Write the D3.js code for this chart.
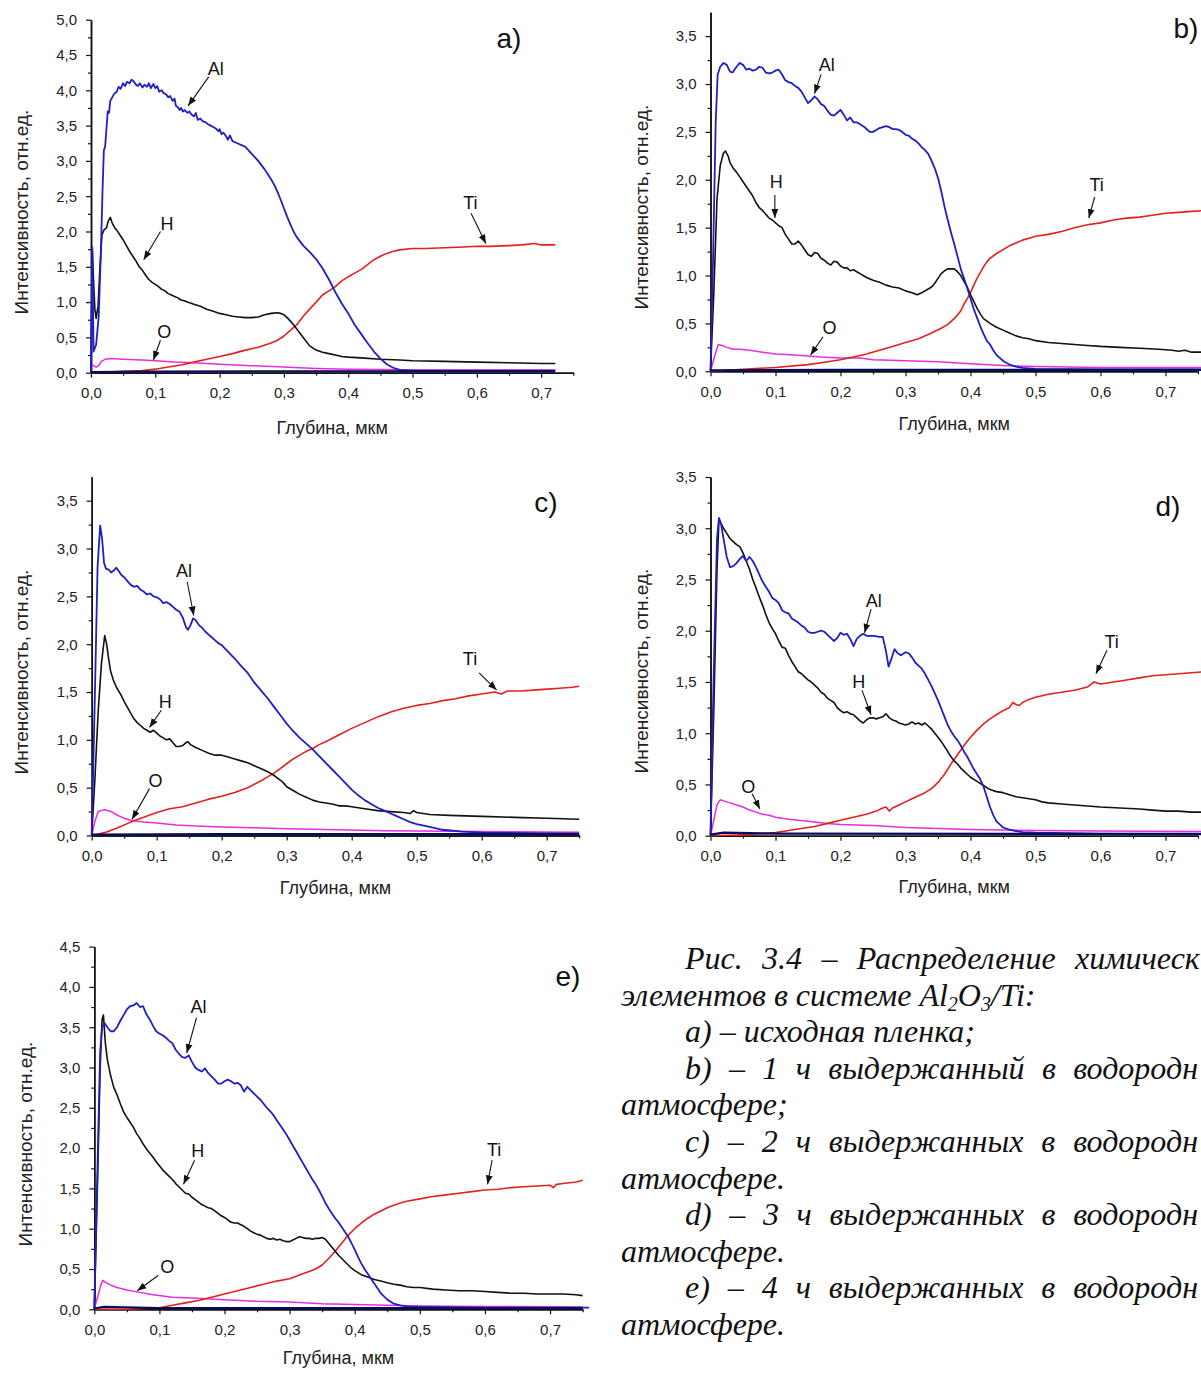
<!DOCTYPE html>
<html><head><meta charset="utf-8">
<script src="https://cdn.jsdelivr.net/npm/d3@7"></script>
<style>
html,body{margin:0;padding:0;background:#fff;overflow:hidden;}
svg{display:block;}
</style></head><body>
<svg id="chart" width="1201" height="1373"></svg>
<script>
// ---------------- DATA (depth µm, intensity a.u.) ----------------
const xTickLabels = [0,0.1,0.2,0.3,0.4,0.5,0.6,0.7];
const xMinorTicks = [0.05,0.15,0.25,0.35,0.45,0.55,0.65,0.75];
const yTicksA = [0,0.5,1,1.5,2,2.5,3,3.5,4,4.5,5];
const yTicksBCD = [0,0.5,1,1.5,2,2.5,3,3.5];
const yTicksE = [0,0.5,1,1.5,2,2.5,3,3.5,4,4.5];
const elements = ['O','Ti','H','Al','B'];

// panel a
const aAl = [[0,0],[0.002,1.78],[0.004,0.3],[0.008,0.4],[0.012,0.8],[0.015,1.6],[0.018,2.6],[0.02,3.15],[0.022,3.2],[0.024,3.45],[0.026,3.7],[0.028,3.68],[0.03,3.85],[0.033,3.9],[0.036,3.95],[0.04,3.98],[0.043,4.05],[0.046,4.02],[0.05,4.1],[0.053,4.06],[0.056,4.12],[0.06,4.1],[0.063,4.15],[0.066,4.13],[0.07,4.08],[0.073,4.06],[0.076,4.1],[0.08,4.04],[0.083,4.08],[0.087,4.05],[0.09,4.1],[0.093,4.03],[0.097,4.09],[0.1,4.03],[0.103,4.06],[0.106,3.98],[0.11,4.0],[0.113,3.96],[0.117,3.94],[0.12,3.9],[0.123,3.92],[0.127,3.85],[0.13,3.88],[0.132,3.78],[0.135,3.76],[0.138,3.72],[0.14,3.75],[0.143,3.7],[0.146,3.72],[0.15,3.68],[0.153,3.7],[0.156,3.66],[0.16,3.63],[0.163,3.68],[0.166,3.58],[0.17,3.6],[0.174,3.56],[0.178,3.55],[0.182,3.52],[0.186,3.5],[0.19,3.48],[0.194,3.46],[0.198,3.42],[0.2,3.45],[0.203,3.38],[0.206,3.4],[0.21,3.35],[0.213,3.3],[0.216,3.36],[0.22,3.28],[0.225,3.26],[0.23,3.24],[0.235,3.22],[0.24,3.2],[0.245,3.15],[0.25,3.1],[0.255,3.05],[0.26,3.0],[0.265,2.94],[0.27,2.88],[0.275,2.81],[0.28,2.74],[0.285,2.66],[0.29,2.56],[0.295,2.45],[0.3,2.33],[0.305,2.21],[0.31,2.1],[0.315,2.0],[0.32,1.92],[0.325,1.86],[0.33,1.8],[0.34,1.71],[0.35,1.61],[0.36,1.48],[0.37,1.32],[0.38,1.14],[0.39,0.98],[0.4,0.84],[0.41,0.68],[0.42,0.55],[0.43,0.42],[0.44,0.3],[0.45,0.2],[0.46,0.12],[0.47,0.07],[0.48,0.04],[0.5,0.03],[0.6,0.03],[0.722,0.03]];
const aH = [[0,0],[0.002,1.75],[0.004,1.3],[0.006,0.9],[0.008,0.77],[0.011,0.95],[0.014,1.5],[0.017,1.95],[0.02,2.02],[0.024,2.05],[0.027,2.15],[0.03,2.2],[0.033,2.12],[0.037,2.05],[0.04,2.02],[0.045,1.95],[0.05,1.88],[0.055,1.8],[0.06,1.72],[0.065,1.65],[0.07,1.58],[0.075,1.5],[0.08,1.45],[0.085,1.38],[0.09,1.32],[0.095,1.28],[0.1,1.25],[0.105,1.22],[0.11,1.18],[0.115,1.16],[0.12,1.12],[0.125,1.1],[0.13,1.08],[0.135,1.06],[0.14,1.03],[0.145,1.02],[0.15,1.0],[0.16,0.97],[0.17,0.94],[0.18,0.9],[0.19,0.87],[0.2,0.84],[0.21,0.82],[0.22,0.8],[0.23,0.79],[0.24,0.78],[0.25,0.78],[0.26,0.79],[0.27,0.82],[0.28,0.84],[0.29,0.85],[0.295,0.84],[0.3,0.82],[0.305,0.78],[0.31,0.73],[0.315,0.68],[0.32,0.62],[0.33,0.5],[0.34,0.38],[0.35,0.32],[0.36,0.29],[0.37,0.27],[0.38,0.25],[0.39,0.23],[0.4,0.22],[0.42,0.21],[0.45,0.19],[0.48,0.18],[0.5,0.17],[0.55,0.16],[0.6,0.15],[0.65,0.14],[0.7,0.13],[0.722,0.13]];
const aTi = [[0,0],[0.05,0.02],[0.08,0.03],[0.1,0.05],[0.12,0.08],[0.14,0.11],[0.16,0.15],[0.18,0.19],[0.2,0.23],[0.22,0.27],[0.24,0.32],[0.26,0.36],[0.28,0.42],[0.29,0.46],[0.3,0.52],[0.31,0.6],[0.32,0.68],[0.33,0.8],[0.34,0.9],[0.35,1.0],[0.36,1.1],[0.37,1.16],[0.38,1.22],[0.39,1.3],[0.4,1.36],[0.41,1.41],[0.42,1.46],[0.43,1.53],[0.44,1.6],[0.45,1.65],[0.46,1.69],[0.47,1.72],[0.48,1.74],[0.5,1.76],[0.52,1.76],[0.55,1.77],[0.58,1.78],[0.6,1.79],[0.62,1.79],[0.65,1.8],[0.67,1.81],[0.69,1.83],[0.7,1.81],[0.722,1.81]];
const aO = [[0,0.12],[0.004,0.1],[0.008,0.08],[0.012,0.1],[0.016,0.16],[0.022,0.19],[0.03,0.2],[0.05,0.19],[0.08,0.18],[0.1,0.17],[0.13,0.15],[0.16,0.14],[0.2,0.12],[0.25,0.1],[0.3,0.08],[0.35,0.06],[0.4,0.05],[0.45,0.045],[0.5,0.04],[0.6,0.04],[0.722,0.04]];
const aBase = [[0,0.01],[0.1,0.015],[0.3,0.02],[0.722,0.02]];

// panel b
const bAl = [[0,0],[0.004,1.2],[0.008,2.6],[0.011,3.1],[0.015,3.18],[0.02,3.22],[0.025,3.2],[0.03,3.13],[0.034,3.12],[0.04,3.18],[0.045,3.22],[0.05,3.2],[0.055,3.15],[0.06,3.16],[0.065,3.14],[0.07,3.15],[0.075,3.18],[0.08,3.17],[0.085,3.12],[0.09,3.11],[0.095,3.12],[0.1,3.14],[0.105,3.15],[0.11,3.1],[0.115,3.04],[0.12,3.02],[0.125,3.01],[0.13,2.98],[0.135,2.96],[0.14,2.92],[0.145,2.86],[0.15,2.8],[0.155,2.83],[0.16,2.87],[0.165,2.84],[0.17,2.79],[0.175,2.77],[0.18,2.72],[0.185,2.68],[0.19,2.67],[0.195,2.7],[0.2,2.73],[0.205,2.68],[0.21,2.62],[0.215,2.65],[0.22,2.6],[0.225,2.6],[0.23,2.58],[0.235,2.56],[0.24,2.53],[0.245,2.5],[0.25,2.5],[0.255,2.52],[0.26,2.54],[0.265,2.55],[0.27,2.56],[0.275,2.55],[0.28,2.53],[0.285,2.53],[0.29,2.52],[0.295,2.5],[0.3,2.47],[0.305,2.46],[0.31,2.43],[0.315,2.41],[0.32,2.38],[0.325,2.34],[0.33,2.31],[0.335,2.27],[0.34,2.2],[0.345,2.12],[0.35,2.02],[0.355,1.88],[0.36,1.72],[0.365,1.58],[0.37,1.45],[0.375,1.33],[0.38,1.2],[0.385,1.07],[0.39,0.97],[0.395,0.87],[0.4,0.76],[0.405,0.65],[0.41,0.56],[0.415,0.47],[0.42,0.39],[0.425,0.32],[0.43,0.28],[0.435,0.22],[0.44,0.17],[0.445,0.14],[0.45,0.11],[0.455,0.09],[0.46,0.07],[0.47,0.05],[0.48,0.035],[0.5,0.025],[0.6,0.02],[0.76,0.02]];
const bH = [[0,0],[0.005,0.8],[0.01,1.8],[0.015,2.15],[0.02,2.28],[0.023,2.3],[0.027,2.25],[0.03,2.18],[0.035,2.12],[0.04,2.08],[0.045,2.03],[0.05,1.98],[0.055,1.93],[0.06,1.88],[0.065,1.83],[0.07,1.76],[0.075,1.71],[0.08,1.68],[0.085,1.64],[0.09,1.6],[0.095,1.58],[0.1,1.55],[0.105,1.52],[0.11,1.5],[0.115,1.43],[0.12,1.38],[0.125,1.33],[0.13,1.33],[0.135,1.36],[0.14,1.32],[0.145,1.27],[0.15,1.22],[0.155,1.2],[0.16,1.24],[0.165,1.23],[0.17,1.18],[0.175,1.16],[0.18,1.13],[0.185,1.11],[0.19,1.15],[0.195,1.14],[0.2,1.1],[0.205,1.08],[0.21,1.08],[0.215,1.05],[0.22,1.06],[0.225,1.04],[0.23,1.02],[0.24,0.98],[0.25,0.95],[0.26,0.93],[0.27,0.9],[0.28,0.88],[0.29,0.87],[0.3,0.84],[0.31,0.82],[0.318,0.8],[0.325,0.82],[0.33,0.84],[0.335,0.86],[0.34,0.88],[0.345,0.92],[0.35,0.97],[0.355,1.02],[0.36,1.05],[0.365,1.07],[0.37,1.07],[0.375,1.07],[0.38,1.04],[0.385,1.0],[0.39,0.94],[0.395,0.88],[0.4,0.8],[0.405,0.73],[0.41,0.66],[0.415,0.6],[0.42,0.55],[0.43,0.5],[0.44,0.46],[0.45,0.43],[0.46,0.4],[0.47,0.37],[0.48,0.35],[0.49,0.34],[0.5,0.32],[0.52,0.3],[0.54,0.29],[0.56,0.28],[0.58,0.27],[0.6,0.26],[0.63,0.25],[0.66,0.24],[0.69,0.23],[0.71,0.22],[0.72,0.21],[0.73,0.22],[0.74,0.2],[0.76,0.2]];
const bTi = [[0,0],[0.05,0.02],[0.1,0.04],[0.15,0.07],[0.18,0.1],[0.2,0.12],[0.22,0.15],[0.24,0.18],[0.26,0.22],[0.28,0.26],[0.3,0.3],[0.32,0.34],[0.34,0.4],[0.355,0.45],[0.365,0.49],[0.375,0.55],[0.385,0.63],[0.39,0.7],[0.395,0.76],[0.4,0.82],[0.405,0.9],[0.41,0.97],[0.415,1.03],[0.42,1.09],[0.425,1.14],[0.43,1.18],[0.44,1.23],[0.45,1.27],[0.46,1.31],[0.47,1.34],[0.48,1.37],[0.49,1.39],[0.5,1.41],[0.52,1.43],[0.54,1.46],[0.56,1.5],[0.58,1.53],[0.6,1.55],[0.62,1.58],[0.64,1.6],[0.66,1.61],[0.68,1.63],[0.7,1.65],[0.72,1.66],[0.74,1.67],[0.76,1.68]];
const bO = [[0,0],[0.006,0.15],[0.012,0.28],[0.018,0.27],[0.025,0.25],[0.035,0.23],[0.045,0.23],[0.06,0.22],[0.08,0.2],[0.1,0.18],[0.13,0.17],[0.15,0.16],[0.17,0.15],[0.2,0.14],[0.23,0.14],[0.25,0.12],[0.3,0.11],[0.35,0.1],[0.4,0.08],[0.45,0.06],[0.5,0.05],[0.6,0.04],[0.76,0.04]];
const bBase = [[0,0.01],[0.2,0.015],[0.76,0.015]];

// panel c
const cAl = [[0,0],[0.005,1.5],[0.009,2.8],[0.013,3.24],[0.016,3.1],[0.019,2.85],[0.022,2.79],[0.026,2.78],[0.03,2.75],[0.034,2.77],[0.038,2.8],[0.042,2.76],[0.046,2.72],[0.05,2.7],[0.055,2.66],[0.06,2.62],[0.065,2.6],[0.07,2.61],[0.075,2.57],[0.08,2.55],[0.085,2.52],[0.09,2.53],[0.095,2.5],[0.1,2.49],[0.105,2.47],[0.11,2.43],[0.115,2.44],[0.12,2.42],[0.125,2.39],[0.13,2.36],[0.135,2.34],[0.14,2.28],[0.145,2.18],[0.148,2.15],[0.152,2.2],[0.156,2.27],[0.16,2.25],[0.165,2.2],[0.17,2.17],[0.175,2.13],[0.18,2.1],[0.185,2.07],[0.19,2.04],[0.195,2.01],[0.2,1.99],[0.21,1.92],[0.22,1.85],[0.23,1.77],[0.24,1.7],[0.25,1.6],[0.26,1.52],[0.27,1.44],[0.28,1.35],[0.29,1.26],[0.3,1.17],[0.31,1.09],[0.32,1.02],[0.33,0.96],[0.34,0.9],[0.35,0.83],[0.36,0.76],[0.37,0.69],[0.38,0.62],[0.39,0.55],[0.4,0.48],[0.41,0.42],[0.42,0.37],[0.43,0.33],[0.44,0.29],[0.45,0.26],[0.46,0.23],[0.47,0.2],[0.48,0.17],[0.49,0.14],[0.5,0.12],[0.52,0.09],[0.54,0.06],[0.57,0.04],[0.6,0.03],[0.75,0.02]];
const cH = [[0,0],[0.005,0.6],[0.01,1.3],[0.015,1.8],[0.02,2.09],[0.023,2.0],[0.026,1.85],[0.029,1.72],[0.033,1.63],[0.038,1.55],[0.045,1.47],[0.05,1.4],[0.055,1.34],[0.06,1.28],[0.065,1.22],[0.07,1.18],[0.075,1.15],[0.08,1.12],[0.085,1.1],[0.09,1.08],[0.095,1.1],[0.1,1.07],[0.105,1.04],[0.11,1.02],[0.115,1.0],[0.12,1.01],[0.125,0.97],[0.13,0.93],[0.135,0.93],[0.14,0.94],[0.145,0.97],[0.148,0.98],[0.152,0.95],[0.16,0.92],[0.17,0.89],[0.18,0.86],[0.19,0.84],[0.2,0.84],[0.21,0.82],[0.22,0.8],[0.23,0.78],[0.24,0.76],[0.25,0.73],[0.26,0.7],[0.27,0.67],[0.28,0.63],[0.29,0.58],[0.295,0.55],[0.3,0.51],[0.31,0.47],[0.32,0.43],[0.33,0.4],[0.34,0.37],[0.35,0.35],[0.36,0.34],[0.37,0.33],[0.38,0.31],[0.39,0.31],[0.4,0.3],[0.42,0.28],[0.44,0.26],[0.46,0.25],[0.48,0.24],[0.49,0.23],[0.495,0.26],[0.5,0.24],[0.52,0.22],[0.55,0.21],[0.6,0.2],[0.65,0.19],[0.7,0.18],[0.75,0.17]];
const cTi = [[0,0],[0.02,0.03],[0.04,0.08],[0.06,0.14],[0.08,0.19],[0.1,0.24],[0.12,0.28],[0.14,0.3],[0.16,0.34],[0.18,0.38],[0.2,0.41],[0.22,0.45],[0.24,0.5],[0.26,0.57],[0.27,0.61],[0.28,0.65],[0.29,0.7],[0.3,0.75],[0.31,0.8],[0.32,0.84],[0.33,0.88],[0.34,0.91],[0.35,0.95],[0.36,0.98],[0.38,1.05],[0.4,1.12],[0.42,1.18],[0.44,1.24],[0.46,1.29],[0.48,1.33],[0.5,1.36],[0.52,1.38],[0.54,1.41],[0.56,1.43],[0.58,1.46],[0.6,1.48],[0.62,1.5],[0.63,1.48],[0.64,1.51],[0.66,1.51],[0.68,1.52],[0.7,1.53],[0.72,1.54],[0.74,1.55],[0.75,1.56]];
const cO = [[0,0],[0.005,0.15],[0.01,0.25],[0.015,0.26],[0.02,0.27],[0.025,0.26],[0.03,0.25],[0.035,0.23],[0.04,0.21],[0.05,0.18],[0.06,0.16],[0.07,0.15],[0.08,0.14],[0.1,0.13],[0.13,0.11],[0.16,0.1],[0.2,0.09],[0.25,0.08],[0.3,0.07],[0.38,0.06],[0.45,0.05],[0.55,0.045],[0.65,0.04],[0.75,0.035]];
const cBase = [[0,0.01],[0.2,0.015],[0.75,0.015]];

// panel d
const dAl = [[0,0],[0.005,1.6],[0.01,2.9],[0.013,3.1],[0.016,3.05],[0.02,2.9],[0.025,2.72],[0.03,2.62],[0.035,2.63],[0.04,2.66],[0.045,2.7],[0.05,2.73],[0.055,2.68],[0.06,2.72],[0.065,2.68],[0.07,2.62],[0.075,2.55],[0.08,2.48],[0.085,2.43],[0.09,2.38],[0.095,2.32],[0.1,2.3],[0.105,2.27],[0.11,2.2],[0.115,2.18],[0.12,2.17],[0.125,2.12],[0.13,2.1],[0.135,2.08],[0.14,2.05],[0.145,2.03],[0.15,1.99],[0.155,1.98],[0.16,1.98],[0.165,1.99],[0.17,2.0],[0.175,1.99],[0.18,1.96],[0.185,1.93],[0.19,1.9],[0.195,1.93],[0.2,1.98],[0.205,1.96],[0.21,1.97],[0.215,1.92],[0.22,1.85],[0.225,1.92],[0.23,1.95],[0.235,1.97],[0.24,1.95],[0.25,1.95],[0.26,1.94],[0.265,1.94],[0.27,1.8],[0.274,1.65],[0.278,1.72],[0.283,1.82],[0.288,1.78],[0.293,1.76],[0.3,1.79],[0.305,1.78],[0.31,1.74],[0.315,1.69],[0.32,1.66],[0.325,1.63],[0.33,1.58],[0.335,1.52],[0.34,1.46],[0.345,1.39],[0.35,1.32],[0.355,1.24],[0.36,1.16],[0.365,1.08],[0.37,1.02],[0.375,0.97],[0.38,0.93],[0.385,0.88],[0.39,0.82],[0.395,0.77],[0.4,0.71],[0.405,0.65],[0.41,0.6],[0.415,0.55],[0.42,0.48],[0.425,0.38],[0.43,0.28],[0.435,0.2],[0.44,0.14],[0.445,0.11],[0.45,0.08],[0.46,0.06],[0.47,0.045],[0.48,0.035],[0.5,0.03],[0.6,0.02],[0.76,0.02]];
const dH = [[0,0],[0.005,1.2],[0.01,2.6],[0.013,3.08],[0.016,3.05],[0.02,3.0],[0.025,2.95],[0.03,2.9],[0.035,2.87],[0.04,2.84],[0.045,2.82],[0.05,2.76],[0.055,2.68],[0.06,2.6],[0.065,2.5],[0.07,2.42],[0.075,2.33],[0.08,2.25],[0.085,2.16],[0.09,2.08],[0.095,2.02],[0.1,1.97],[0.105,1.9],[0.11,1.84],[0.115,1.83],[0.12,1.76],[0.125,1.7],[0.13,1.65],[0.135,1.6],[0.14,1.58],[0.145,1.55],[0.15,1.52],[0.155,1.5],[0.16,1.47],[0.165,1.44],[0.17,1.4],[0.175,1.38],[0.18,1.34],[0.185,1.32],[0.19,1.3],[0.195,1.25],[0.2,1.22],[0.205,1.2],[0.21,1.21],[0.215,1.19],[0.22,1.18],[0.225,1.15],[0.23,1.12],[0.235,1.1],[0.24,1.13],[0.245,1.15],[0.25,1.15],[0.255,1.14],[0.26,1.15],[0.265,1.16],[0.27,1.19],[0.275,1.15],[0.28,1.13],[0.285,1.12],[0.29,1.1],[0.295,1.09],[0.3,1.08],[0.305,1.09],[0.31,1.11],[0.315,1.09],[0.32,1.1],[0.325,1.08],[0.33,1.1],[0.335,1.07],[0.34,1.04],[0.345,1.0],[0.35,0.96],[0.355,0.92],[0.36,0.87],[0.365,0.82],[0.37,0.77],[0.375,0.73],[0.38,0.7],[0.385,0.66],[0.39,0.63],[0.395,0.6],[0.4,0.57],[0.41,0.53],[0.42,0.49],[0.43,0.45],[0.44,0.43],[0.45,0.42],[0.46,0.4],[0.47,0.38],[0.48,0.37],[0.49,0.36],[0.5,0.35],[0.51,0.33],[0.52,0.32],[0.54,0.31],[0.56,0.3],[0.58,0.29],[0.6,0.28],[0.63,0.27],[0.66,0.26],[0.68,0.25],[0.7,0.24],[0.72,0.24],[0.74,0.23],[0.76,0.23]];
const dTi = [[0,0],[0.05,0.01],[0.08,0.02],[0.1,0.03],[0.12,0.05],[0.14,0.07],[0.16,0.09],[0.18,0.12],[0.2,0.15],[0.22,0.18],[0.24,0.21],[0.255,0.24],[0.265,0.27],[0.27,0.28],[0.275,0.24],[0.28,0.27],[0.29,0.3],[0.3,0.33],[0.31,0.36],[0.32,0.39],[0.33,0.42],[0.34,0.46],[0.35,0.52],[0.36,0.6],[0.37,0.7],[0.38,0.79],[0.39,0.88],[0.4,0.96],[0.41,1.03],[0.42,1.09],[0.43,1.14],[0.44,1.18],[0.45,1.22],[0.46,1.25],[0.465,1.3],[0.47,1.28],[0.475,1.27],[0.48,1.3],[0.49,1.33],[0.5,1.35],[0.52,1.38],[0.54,1.4],[0.56,1.42],[0.58,1.45],[0.59,1.5],[0.6,1.48],[0.62,1.5],[0.64,1.52],[0.66,1.54],[0.68,1.56],[0.7,1.57],[0.72,1.58],[0.74,1.59],[0.76,1.6]];
const dO = [[0,0],[0.005,0.15],[0.01,0.3],[0.015,0.35],[0.02,0.34],[0.03,0.32],[0.04,0.3],[0.05,0.28],[0.06,0.25],[0.07,0.23],[0.08,0.21],[0.09,0.2],[0.1,0.18],[0.12,0.16],[0.15,0.14],[0.18,0.12],[0.2,0.11],[0.25,0.1],[0.3,0.08],[0.35,0.07],[0.4,0.06],[0.45,0.055],[0.5,0.05],[0.6,0.045],[0.76,0.04]];
const dBase = [[0,0.01],[0.02,0.03],[0.1,0.02],[0.76,0.015]];

// panel e
const eAl = [[0,0],[0.005,1.8],[0.009,3.2],[0.012,3.5],[0.016,3.55],[0.02,3.5],[0.025,3.45],[0.03,3.45],[0.035,3.5],[0.04,3.58],[0.045,3.65],[0.05,3.72],[0.055,3.76],[0.06,3.77],[0.065,3.8],[0.07,3.75],[0.075,3.76],[0.08,3.66],[0.085,3.6],[0.09,3.52],[0.095,3.45],[0.1,3.42],[0.105,3.4],[0.11,3.37],[0.115,3.33],[0.12,3.3],[0.125,3.22],[0.13,3.17],[0.135,3.13],[0.14,3.12],[0.145,3.15],[0.15,3.07],[0.155,3.0],[0.16,2.97],[0.165,2.95],[0.17,2.99],[0.175,2.93],[0.18,2.89],[0.185,2.85],[0.19,2.8],[0.195,2.8],[0.2,2.83],[0.205,2.85],[0.21,2.83],[0.215,2.8],[0.22,2.81],[0.225,2.78],[0.23,2.7],[0.235,2.76],[0.24,2.72],[0.245,2.68],[0.25,2.64],[0.255,2.6],[0.26,2.55],[0.265,2.5],[0.27,2.46],[0.275,2.41],[0.28,2.35],[0.285,2.29],[0.29,2.23],[0.295,2.17],[0.3,2.1],[0.305,2.03],[0.31,1.96],[0.315,1.89],[0.32,1.82],[0.325,1.75],[0.33,1.68],[0.335,1.61],[0.34,1.55],[0.345,1.48],[0.35,1.4],[0.355,1.32],[0.36,1.25],[0.365,1.19],[0.37,1.13],[0.375,1.08],[0.38,1.02],[0.385,0.96],[0.39,0.9],[0.395,0.82],[0.4,0.74],[0.405,0.65],[0.41,0.57],[0.415,0.5],[0.42,0.44],[0.425,0.38],[0.43,0.32],[0.435,0.26],[0.44,0.2],[0.445,0.16],[0.45,0.12],[0.46,0.07],[0.47,0.05],[0.48,0.035],[0.5,0.03],[0.6,0.02],[0.76,0.02]];
const eH = [[0,0],[0.005,1.6],[0.009,3.0],[0.012,3.6],[0.014,3.65],[0.017,3.3],[0.02,3.1],[0.025,2.9],[0.03,2.75],[0.035,2.66],[0.04,2.55],[0.045,2.45],[0.05,2.38],[0.055,2.32],[0.06,2.26],[0.065,2.18],[0.07,2.12],[0.075,2.05],[0.08,1.99],[0.085,1.94],[0.09,1.89],[0.095,1.83],[0.1,1.78],[0.105,1.73],[0.11,1.69],[0.115,1.65],[0.12,1.61],[0.125,1.56],[0.13,1.52],[0.135,1.48],[0.14,1.44],[0.145,1.43],[0.15,1.39],[0.155,1.36],[0.16,1.33],[0.165,1.3],[0.17,1.28],[0.175,1.26],[0.18,1.25],[0.185,1.22],[0.19,1.19],[0.195,1.16],[0.2,1.14],[0.205,1.11],[0.21,1.08],[0.215,1.07],[0.22,1.07],[0.225,1.05],[0.23,1.03],[0.235,1.0],[0.24,0.97],[0.245,0.95],[0.25,0.93],[0.255,0.92],[0.26,0.9],[0.265,0.88],[0.27,0.87],[0.275,0.88],[0.28,0.86],[0.285,0.87],[0.29,0.85],[0.295,0.84],[0.3,0.84],[0.305,0.86],[0.31,0.88],[0.315,0.9],[0.32,0.89],[0.325,0.88],[0.33,0.88],[0.335,0.87],[0.34,0.88],[0.345,0.88],[0.35,0.89],[0.355,0.87],[0.36,0.82],[0.365,0.77],[0.37,0.72],[0.375,0.67],[0.38,0.63],[0.385,0.59],[0.39,0.55],[0.395,0.51],[0.4,0.48],[0.41,0.43],[0.42,0.4],[0.43,0.37],[0.44,0.35],[0.45,0.33],[0.46,0.31],[0.47,0.3],[0.48,0.28],[0.49,0.27],[0.5,0.27],[0.52,0.25],[0.54,0.24],[0.56,0.23],[0.58,0.23],[0.6,0.22],[0.62,0.21],[0.64,0.2],[0.66,0.2],[0.68,0.19],[0.7,0.19],[0.72,0.19],[0.74,0.18],[0.75,0.17]];
const eTi = [[0,0],[0.05,0.0],[0.08,0.01],[0.1,0.02],[0.12,0.05],[0.14,0.08],[0.16,0.11],[0.18,0.15],[0.2,0.19],[0.22,0.23],[0.24,0.27],[0.26,0.31],[0.28,0.35],[0.3,0.38],[0.31,0.41],[0.32,0.44],[0.33,0.47],[0.34,0.5],[0.35,0.55],[0.36,0.63],[0.37,0.72],[0.38,0.82],[0.39,0.92],[0.4,1.0],[0.41,1.07],[0.42,1.13],[0.43,1.18],[0.44,1.22],[0.45,1.26],[0.46,1.29],[0.47,1.32],[0.48,1.34],[0.5,1.37],[0.52,1.4],[0.54,1.42],[0.56,1.44],[0.58,1.46],[0.6,1.48],[0.62,1.49],[0.64,1.51],[0.66,1.52],[0.68,1.53],[0.7,1.54],[0.705,1.51],[0.71,1.55],[0.72,1.56],[0.74,1.58],[0.75,1.6]];
const eO = [[0,0],[0.005,0.15],[0.01,0.3],[0.013,0.36],[0.018,0.33],[0.025,0.3],[0.035,0.27],[0.05,0.24],[0.07,0.21],[0.09,0.18],[0.12,0.15],[0.15,0.14],[0.2,0.12],[0.25,0.1],[0.3,0.09],[0.35,0.07],[0.4,0.06],[0.45,0.05],[0.5,0.04],[0.6,0.035],[0.75,0.03]];
const eBase = [[0,0.01],[0.015,0.03],[0.1,0.015],[0.75,0.015]];

// annotations: [label, labelX, labelY, arrowFromX, arrowFromY, arrowToX, arrowToY] in data units
const annA = [['Al',0.194,4.30,0.183,4.19,0.151,3.78],['H',0.118,2.11,0.108,2.0,0.082,1.6],['Ti',0.59,2.41,0.591,2.26,0.614,1.83],['O',0.114,0.58,0.108,0.46,0.097,0.18]];
const annB = [['Al',0.179,3.2,0.17,3.1,0.16,2.9],['H',0.101,1.98,0.099,1.84,0.099,1.6],['Ti',0.594,1.95,0.591,1.82,0.582,1.6],['O',0.183,0.45,0.173,0.36,0.154,0.17]];
const annC = [['Al',0.142,2.76,0.147,2.65,0.157,2.3],['H',0.113,1.4,0.107,1.31,0.089,1.13],['Ti',0.582,1.84,0.596,1.7,0.623,1.52],['O',0.098,0.57,0.089,0.49,0.062,0.17]];
const annD = [['Al',0.251,2.29,0.247,2.21,0.237,1.98],['H',0.228,1.5,0.233,1.42,0.247,1.18],['Ti',0.617,1.89,0.61,1.81,0.593,1.58],['O',0.058,0.48,0.064,0.41,0.076,0.26]];
const annE = [['Al',0.16,3.75,0.157,3.62,0.142,3.18],['H',0.159,1.97,0.154,1.85,0.137,1.55],['Ti',0.614,1.98,0.611,1.85,0.604,1.55],['O',0.112,0.53,0.098,0.42,0.066,0.23]];

const panelLetters = ['a)','b)','c)','d)','e)'];
const yTitle = 'Интенсивность, отн.ед.';
const xTitle = 'Глубина, мкм';

// ---------------- LAYOUT ----------------
const colors = {Al:'#1f1fc4', H:'#111111', Ti:'#e3201e', O:'#e42ee0', B:'#0a0a5e'};
const widths = {Al:1.8, H:1.6, Ti:1.6, O:1.5, B:2.2};
const panels = [
  {letter:panelLetters[0], s:{Al:aAl,H:aH,Ti:aTi,O:aO,B:aBase}, ann:annA, yt:yTicksA, ymax:5.0,  xr:[91,573.3],   yr:[372.7,19.7], let:[509,38],   ytc:[21,212], xty:428},
  {letter:panelLetters[1], s:{Al:bAl,H:bH,Ti:bTi,O:bO,B:bBase}, ann:annB, yt:yTicksBCD, ymax:3.75, xr:[710.5,1198], yr:[371.3,12.2], let:[1186,28],  ytc:[641,207], xty:424},
  {letter:panelLetters[2], s:{Al:cAl,H:cH,Ti:cTi,O:cO,B:cBase}, ann:annC, yt:yTicksBCD, ymax:3.75, xr:[91.7,579.2], yr:[835.5,476.8], let:[546,502], ytc:[21,672], xty:888},
  {letter:panelLetters[3], s:{Al:dAl,H:dH,Ti:dTi,O:dO,B:dBase}, ann:annD, yt:yTicksBCD, ymax:3.5, xr:[710.5,1198], yr:[835.7,477], let:[1168,506],  ytc:[641,671], xty:887},
  {letter:panelLetters[4], s:{Al:eAl,H:eH,Ti:eTi,O:eO,B:eBase}, ann:annE, yt:yTicksE, ymax:4.5, xr:[94.3,582.6], yr:[1309.3,946.6], let:[568,976], ytc:[25,1144], xty:1358}
];

const svg = d3.select('#chart');
svg.append('rect').attr('width',1201).attr('height',1373).attr('fill','#fff');
svg.append('defs').append('marker').attr('id','arr').attr('viewBox','0 0 10 10')
  .attr('refX',10).attr('refY',5).attr('markerWidth',9).attr('markerHeight',9)
  .attr('markerUnits','userSpaceOnUse').attr('orient','auto')
  .append('path').attr('d','M0,1.2 L10,5 L0,8.8 z').attr('fill','#111');

const fmt = d => d3.format('.1f')(d).replace('.', ',');
const SANS = '"Liberation Sans", Arial, Helvetica, sans-serif';

panels.forEach(p => {
  const x = d3.scaleLinear().domain([0,0.75]).range(p.xr);
  const y = d3.scaleLinear().domain([0,p.ymax]).range(p.yr);
  const g = svg.append('g');
  const yMinor = p.yt.slice(0,-1).map(v => v + 0.25);

  const styleAxis = sel => {
    sel.select('.domain').attr('stroke','#111').attr('stroke-width',1.5);
    sel.selectAll('.tick line').attr('stroke','#111').attr('stroke-width',1.2);
    sel.selectAll('text').attr('font-family',SANS).attr('font-size',15).attr('fill','#222');
  };
  g.append('g').attr('transform',`translate(0,${p.yr[0]})`)
    .call(d3.axisBottom(x).tickValues(xMinorTicks).tickFormat('').tickSize(3).tickSizeOuter(0)).call(styleAxis);
  g.append('g').attr('transform',`translate(0,${p.yr[0]})`)
    .call(d3.axisBottom(x).tickValues(xTickLabels).tickFormat(fmt).tickSize(5).tickPadding(10).tickSizeOuter(0)).call(styleAxis);
  g.append('g').attr('transform',`translate(${p.xr[0]},0)`)
    .call(d3.axisLeft(y).tickValues(yMinor).tickFormat('').tickSize(3).tickSizeOuter(0)).call(styleAxis);
  g.append('g').attr('transform',`translate(${p.xr[0]},0)`)
    .call(d3.axisLeft(y).tickValues(p.yt).tickFormat(fmt).tickSize(5).tickPadding(9).tickSizeOuter(0)).call(styleAxis);

  const line = d3.line().x(d => x(d[0])).y(d => y(d[1]));
  elements.forEach(k => {
    g.append('path').datum(p.s[k]).attr('d',line).attr('fill','none')
      .attr('stroke',colors[k]).attr('stroke-width',widths[k]).attr('stroke-linejoin','round');
  });

  p.ann.forEach(a => {
    g.append('line').attr('x1',x(a[3])).attr('y1',y(a[4])).attr('x2',x(a[5])).attr('y2',y(a[6]))
      .attr('stroke','#111').attr('stroke-width',1.1).attr('marker-end','url(#arr)');
    g.append('text').attr('x',x(a[1])).attr('y',y(a[2])).attr('text-anchor','middle')
      .attr('dominant-baseline','central').attr('font-family',SANS).attr('font-size',18).attr('fill','#111').text(a[0]);
  });

  g.append('text').attr('x',p.let[0]).attr('y',p.let[1]).attr('text-anchor','middle')
    .attr('dominant-baseline','central').attr('font-family',SANS).attr('font-size',28).attr('fill','#111').text(p.letter);
  g.append('text').attr('transform',`translate(${p.ytc[0]},${p.ytc[1]}) rotate(-90)`).attr('text-anchor','middle')
    .attr('dominant-baseline','central').attr('font-family',SANS).attr('font-size',19).attr('fill','#222').text(yTitle);
  g.append('text').attr('x',(p.xr[0]+p.xr[1])/2).attr('y',p.xty).attr('text-anchor','middle')
    .attr('dominant-baseline','central').attr('font-family',SANS).attr('font-size',18).attr('fill','#222').text(xTitle);
});

// ---------------- CAPTION (justified italic serif; the page crops the right column edge) ----------------
const SERIF = '"Liberation Serif", "Times New Roman", serif';
const cap = svg.append('g').attr('font-family',SERIF).attr('font-style','italic').attr('font-size',32).attr('fill','#111');
const capLeft = 621, capIndent = 685, capRight = 1230;
// each justified line: full words for spacing, and the part visible inside the page
const capLines = [
  {ind:true,  just:true,  words:['Рис.','3.4','–','Распределение','химических'], shown:'химическ'},
  {ind:false, just:false, sub:true, words:['элементов в системе ']},
  {ind:true,  just:false, words:['a) – исходная пленка;']},
  {ind:true,  just:true,  words:['b)','–','1','ч','выдержанный','в','водородной'], shown:'водородн'},
  {ind:false, just:false, words:['атмосфере;']},
  {ind:true,  just:true,  words:['c)','–','2','ч','выдержанных','в','водородной'], shown:'водородн'},
  {ind:false, just:false, words:['атмосфере.']},
  {ind:true,  just:true,  words:['d)','–','3','ч','выдержанных','в','водородной'], shown:'водородн'},
  {ind:false, just:false, words:['атмосфере.']},
  {ind:true,  just:true,  words:['e)','–','4','ч','выдержанных','в','водородной'], shown:'водородн'},
  {ind:false, just:false, words:['атмосфере.']}
];
capLines.forEach((ln,i) => {
  const by = 969 + i*36.6;
  const x0 = ln.ind ? capIndent : capLeft;
  if (ln.just) {
    const ts = ln.words.map(w => cap.append('text').attr('y',by).text(w));
    const ws = ts.map(t => t.node().getComputedTextLength());
    const gap = (capRight - x0 - d3.sum(ws)) / (ws.length - 1);
    let cx = x0;
    ts.forEach((t,j) => { t.attr('x',cx); cx += ws[j] + gap; });
    ts[ts.length-1].text(ln.shown);
  } else {
    const t = cap.append('text').attr('x',x0).attr('y',by).attr('xml:space','preserve');
    if (ln.sub) {
      t.append('tspan').text(ln.words[0]);
      t.append('tspan').text('Al');
      t.append('tspan').attr('font-size',20).attr('dy',5).text('2');
      t.append('tspan').attr('dy',-5).text('O');
      t.append('tspan').attr('font-size',20).attr('dy',5).text('3');
      t.append('tspan').attr('dy',-5).text('/Ti:');
    } else {
      t.text(ln.words[0]);
    }
  }
});
</script>
</body></html>
